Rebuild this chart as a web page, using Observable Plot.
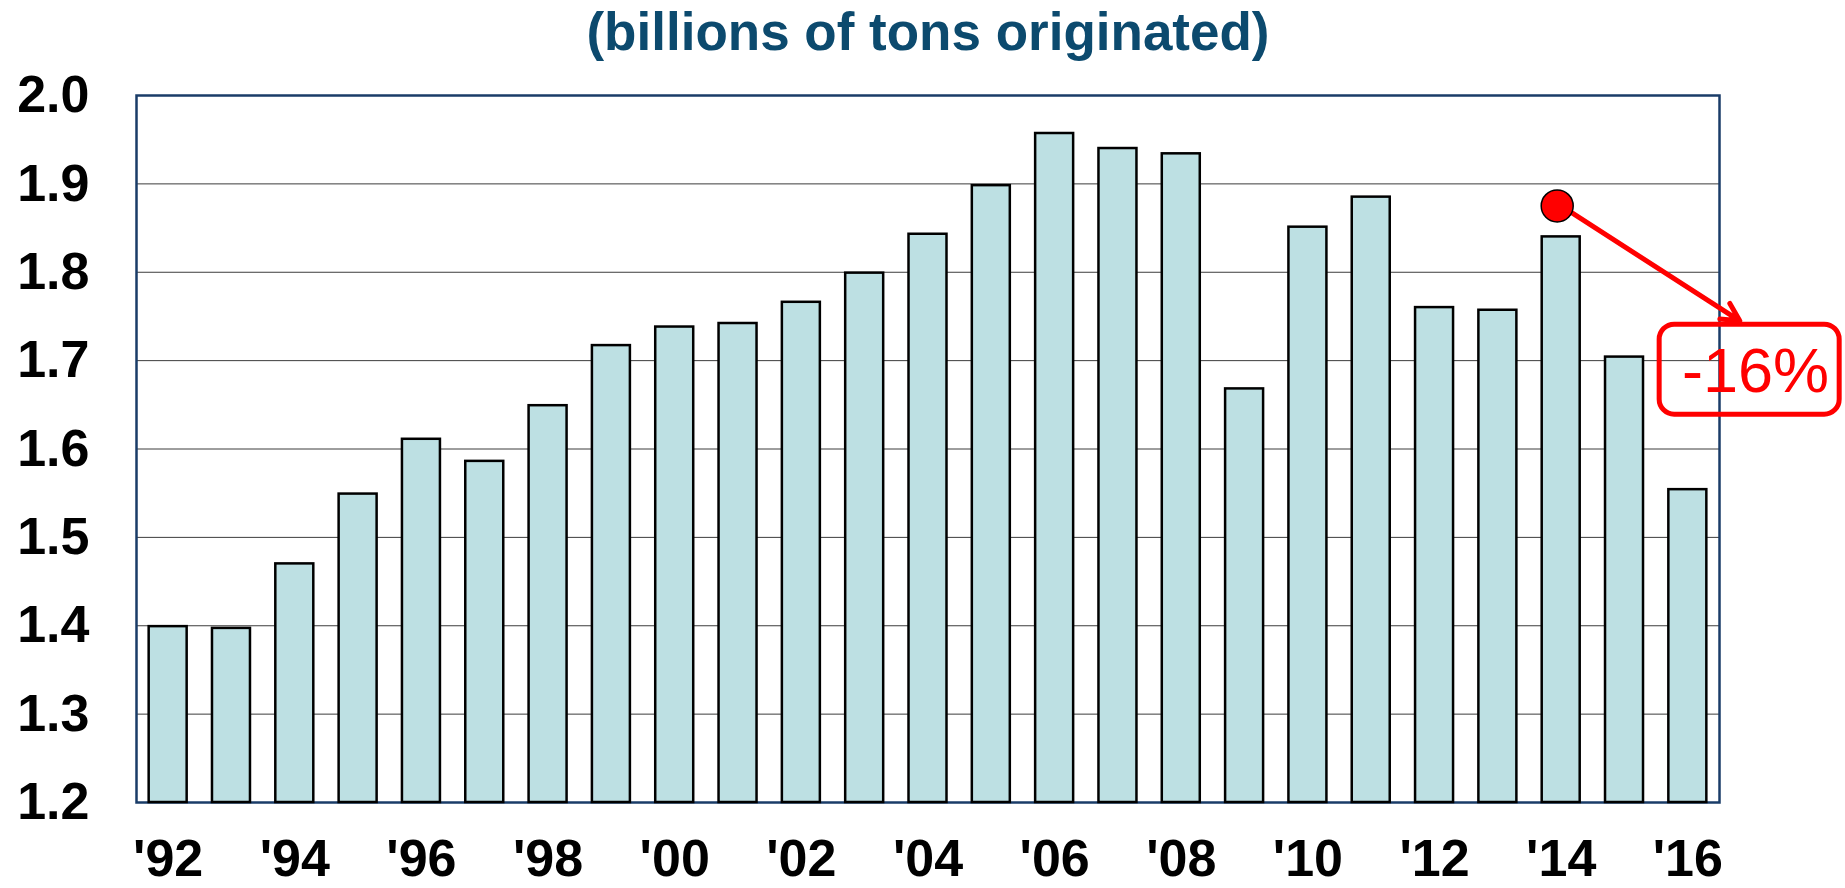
<!DOCTYPE html>
<html>
<head>
<meta charset="utf-8">
<script src="https://cdn.jsdelivr.net/npm/d3@7"></script>
<script src="https://cdn.jsdelivr.net/npm/@observablehq/plot@0.6"></script>
<style>
  html, body { margin: 0; padding: 0; background: #fff; }
  #chart svg { display: block; }
</style>
</head>
<body>
<div id="chart"></div>
<script>
// Rail tonnage originated per year, in billions of tons
const years = [1992, 1993, 1994, 1995, 1996, 1997, 1998, 1999, 2000, 2001, 2002, 2003, 2004,
               2005, 2006, 2007, 2008, 2009, 2010, 2011, 2012, 2013, 2014, 2015, 2016];
const tons  = [1.399, 1.397, 1.470, 1.549, 1.611, 1.586, 1.649, 1.717, 1.738, 1.742, 1.766, 1.799, 1.843,
               1.898, 1.957, 1.940, 1.934, 1.668, 1.851, 1.885, 1.760, 1.757, 1.840, 1.704, 1.554];

// Axis ticks
const xTickYears  = [1992, 1994, 1996, 1998, 2000, 2002, 2004, 2006, 2008, 2010, 2012, 2014, 2016];
const xTickLabels = ["'92", "'94", "'96", "'98", "'00", "'02", "'04", "'06", "'08", "'10", "'12", "'14", "'16"];
const yTicks      = [1.2, 1.3, 1.4, 1.5, 1.6, 1.7, 1.8, 1.9, 2.0];

const titleText = ["(billions of tons originated)"];

// Callout: recent peak marker, arrow and percentage change box
const peakYear   = [2014];
const peakValue  = [1.875];
const arrowYear  = [2014, 2016.82];
const arrowValue = [1.875, 1.745];
const boxYear    = [2015.555, 2018.398];
const boxValue   = [1.6388, 1.7407];
const changeText = ["-16%"];
const changeYear = [2017.07];
const changeValue = [1.664];

const bars = years.map((year, i) => ({year, value: tons[i]}));
const halfBar = 0.3;
const yMin = yTicks[0];

const red = "#ff0000";
const font = "'Liberation Sans', Arial, Helvetica, sans-serif";

const chart = Plot.plot({
  width: 1845,
  height: 888,
  marginTop: 95,
  marginBottom: 86,
  marginLeft: 136,
  marginRight: 126,
  style: {fontFamily: font, background: "#fff", color: "#000", overflow: "visible"},
  x: {type: "linear", domain: [years[0] - 0.5, years[years.length - 1] + 0.5]},
  y: {domain: [yTicks[0], yTicks[yTicks.length - 1]]},
  marks: [
    Plot.gridY(yTicks.slice(1, -1), {stroke: "#3c3c3c", strokeOpacity: 1, strokeWidth: 1}),
    Plot.frame({stroke: "#1a3c68", strokeWidth: 2.5}),
    Plot.rect(bars, {
      x1: d => d.year - halfBar,
      x2: d => d.year + halfBar,
      y1: () => yMin,
      y2: "value",
      fill: "#bde0e3",
      stroke: "#000",
      strokeWidth: 2.5
    }),
    Plot.axisY({
      ticks: yTicks,
      tickFormat: d => d.toFixed(1),
      tickSize: 0,
      tickPadding: 47,
      fontSize: 52,
      fontWeight: "bold",
      label: null
    }),
    Plot.axisX({
      ticks: xTickYears,
      tickFormat: d => xTickLabels[xTickYears.indexOf(d)],
      tickSize: 0,
      tickPadding: 37,
      fontSize: 52,
      fontWeight: "bold",
      label: null
    }),
    Plot.text(titleText, {
      text: d => d,
      frameAnchor: "top",
      lineAnchor: "bottom",
      dy: -46,
      fontSize: 53,
      fontWeight: "bold",
      fill: "#0c4a6e"
    }),
    Plot.arrow([0], {
      x1: () => arrowYear[0], y1: () => arrowValue[0],
      x2: () => arrowYear[1], y2: () => arrowValue[1],
      stroke: red,
      strokeWidth: 5,
      headLength: 6,
      headAngle: 55
    }),
    Plot.dot(peakYear, {
      x: d => d,
      y: (d, i) => peakValue[i],
      r: 16,
      dx: -4,
      fill: red,
      stroke: "#000",
      strokeWidth: 1.5
    }),
    Plot.rect([0], {
      x1: () => boxYear[0], x2: () => boxYear[1],
      y1: () => boxValue[0], y2: () => boxValue[1],
      rx: 15,
      fill: "none",
      stroke: red,
      strokeWidth: 5
    }),
    Plot.text(changeText, {
      text: d => d,
      x: (d, i) => changeYear[i],
      y: (d, i) => changeValue[i],
      lineAnchor: "bottom",
      textAnchor: "middle",
      fontSize: 63,
      fill: red
    })
  ]
});

document.getElementById("chart").append(chart);
</script>
</body>
</html>
